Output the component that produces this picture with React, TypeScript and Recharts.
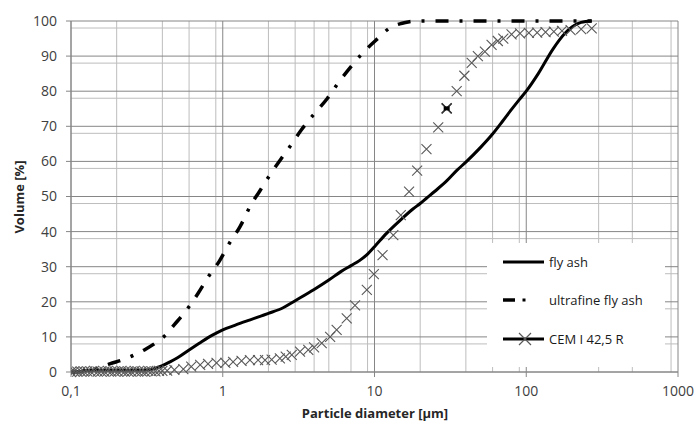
import { ComposedChart, Line, Scatter, XAxis, YAxis, CartesianGrid, Legend } from "recharts"

// particle diameter [µm] / cumulative volume [%]
const flyAshX = [0.12, 0.15, 0.2, 0.25, 0.3, 0.35, 0.4, 0.45, 0.5, 0.6, 0.7, 0.8, 0.9, 1, 1.2, 1.5, 1.8, 2, 2.5, 3, 4, 5, 6, 7, 8, 9, 10, 12, 15, 18, 20, 22, 25, 30, 35, 40, 50, 60, 70, 80, 90, 100, 120, 150, 180, 200, 230, 270]
const flyAshY = [0.4, 0.5, 0.5, 0.5, 0.5, 0.9, 1.8, 2.9, 4.0, 6.3, 8.2, 9.8, 11, 12, 13.3, 14.8, 16, 16.7, 18.3, 20.3, 23.5, 26.2, 28.6, 30.3, 31.8, 33.6, 35.7, 39.5, 43.5, 46.5, 48, 49.5, 51.5, 54.5, 57.5, 59.8, 64, 67.8, 71.5, 74.8, 77.6, 80, 85, 92, 96.5, 98.3, 99.6, 100]

const ultrafineX = [0.1, 0.13, 0.15, 0.18, 0.22, 0.26, 0.31, 0.37, 0.42, 0.48, 0.55, 0.62, 0.69, 0.8, 0.95, 1.1, 1.3, 1.55, 1.75, 2, 2.4, 2.8, 3.3, 4, 4.9, 5.8, 7, 8.4, 10.5, 12.6, 15, 17, 20, 30, 50, 100, 200, 270]
const ultrafineY = [0, 0.3, 1, 2.3, 3.5, 4.8, 6.5, 8.6, 10.5, 13.5, 16.5, 19.5, 22.5, 27, 31.6, 36.5, 41.4, 48, 51.5, 55.5, 60.5, 64.5, 69, 73.5, 78, 82.5, 87, 91, 95, 98, 99.3, 99.8, 100, 100, 100, 100, 100, 100]

const cemX = [0.1, 0.105, 0.11, 0.116, 0.122, 0.128, 0.135, 0.142, 0.15, 0.158, 0.166, 0.175, 0.184, 0.194, 0.204, 0.215, 0.226, 0.238, 0.25, 0.263, 0.277, 0.292, 0.307, 0.323, 0.34, 0.36, 0.38, 0.4, 0.43, 0.48, 0.55, 0.62, 0.71, 0.8, 0.91, 1.04, 1.17, 1.33, 1.51, 1.71, 1.9, 2.1, 2.38, 2.6, 2.85, 3.23, 3.66, 4.0, 4.49, 5.1, 5.63, 6.56, 7.44, 8.9, 9.9, 11.3, 13.3, 14.9, 16.9, 19.1, 22, 26.3, 29.9, 34.8, 39.1, 43.7, 48, 53.4, 59.1, 65, 70.6, 80, 91, 104, 118, 134, 152, 172, 196, 230, 270]
const cemY = [0, 0.2, 0.1, 0.2, 0.1, 0.2, 0.1, 0.3, 0.1, 0.2, 0.1, 0.3, 0.1, 0.2, 0.1, 0.3, 0.1, 0.2, 0.1, 0.3, 0.1, 0.2, 0.1, 0.3, 0.2, 0.2, 0.3, 0.3, 0.4, 0.6, 0.8, 1.5, 2, 2.3, 2.6, 2.6, 2.9, 3.2, 3.4, 3.4, 3.4, 3.5, 3.9, 4.4, 4.9, 5.8, 6.3, 7, 8.2, 10, 12, 15.3, 19, 23.4, 27.9, 33.3, 39, 44.7, 51.4, 57.4, 63.5, 69.7, 75.1, 80, 84.4, 88.1, 90, 91.3, 93.2, 94.3, 95, 96.2, 96.5, 96.6, 96.7, 96.8, 97, 97.2, 97.4, 97.7, 97.9]
const cemHighlight = [{ x: 29.9, y: 75.1 }]

const xTicks = [0.1, 1, 10, 100, 1000]
const yTicks = [0, 10, 20, 30, 40, 50, 60, 70, 80, 90, 100]
const minorX = [0.1, 1, 10, 100].flatMap((d) => [2, 3, 4, 5, 6, 7, 8, 9].map((m) => +(d * m).toPrecision(3)))
const minorY = yTicks.slice(0, -1).flatMap((t) => [2, 4, 6, 8].map((m) => t + m))

const flyAsh = flyAshX.map((x, i) => ({ x, y: flyAshY[i] }))
const ultrafine = ultrafineX.map((x, i) => ({ x, y: ultrafineY[i] }))
const cem = cemX.map((x, i) => ({ x, y: cemY[i] }))

const font = "'Open Sans', sans-serif"
const textColor = "#404040"

const Cross = (props: any) => {
  const { cx, cy } = props
  const s = 5
  return (
    <path d={`M${cx - s},${cy - s}L${cx + s},${cy + s}M${cx - s},${cy + s}L${cx + s},${cy - s}`} stroke="#595959" strokeWidth={1.1} fill="none" />
  )
}

const Star = (props: any) => {
  const { cx, cy } = props
  return (
    <g>
      <path d={`M${cx - 5},${cy - 5}L${cx + 5},${cy + 5}M${cx - 5},${cy + 5}L${cx + 5},${cy - 5}`} stroke="#333" strokeWidth={1.5} />
      <rect x={cx - 3} y={cy - 2} width={6} height={4} fill="#000" />
    </g>
  )
}

function LegendBox() {
  const row = (sample: any, label: string, top: number) => (
    <div style={{ position: "absolute", left: 0, top, height: 20, display: "flex", alignItems: "center" }}>
      <svg width={62} height={20} style={{ display: "block" }}>{sample}</svg>
      <span style={{ fontFamily: font, fontSize: 13, color: "#1a1a1a", whiteSpace: "nowrap" }}>{label}</span>
    </div>
  )
  return (
    <div style={{ width: 178, height: 124, background: "#fff", position: "relative" }}>
      {row(<line x1={16} x2={57} y1={10} y2={10} stroke="#000" strokeWidth={3} />, "fly ash", 9)}
      {row(
        <g>
          <line x1={16} x2={28} y1={10} y2={10} stroke="#000" strokeWidth={3.5} />
          <rect x={35.5} y={8.5} width={3} height={3} fill="#000" />
        </g>,
        "ultrafine fly ash",
        47
      )}
      {row(
        <g>
          <line x1={16} x2={57} y1={10} y2={10} stroke="#000" strokeWidth={3} />
          <path d="M32,4L44,16M32,16L44,4" stroke="#595959" strokeWidth={1.2} />
        </g>,
        "CEM I 42,5 R",
        86
      )}
    </div>
  )
}

export default function App() {
  return (
    <div style={{ position: "absolute", left: 0, top: 0, background: "#fff" }}>
      <ComposedChart width={694} height={423} margin={{ top: 21, right: 16, left: 0, bottom: 0 }}>
        <CartesianGrid horizontalValues={minorY} verticalValues={minorX} stroke="#bdbdbd" strokeDasharray="" />
        <CartesianGrid horizontalValues={yTicks} verticalValues={xTicks} stroke="#868686" strokeDasharray="" />
        <XAxis
          type="number"
          dataKey="x"
          scale="log"
          domain={[0.1, 1000]}
          ticks={xTicks}
          allowDataOverflow
          height={51}
          tickSize={5}
          tickMargin={9}
          stroke="#868686"
          tickFormatter={(v: number) => String(v).replace(".", ",")}
          tick={{ fill: textColor, fontSize: 14, fontFamily: font }}
          label={{
            content: () => (
              <text x={375} y={413} textAnchor="middle" dominantBaseline="central" fontFamily={font} fontSize={13} fontWeight="bold" fill="#262626">
                Particle diameter [µm]
              </text>
            ),
          }}
        />
        <YAxis
          type="number"
          dataKey="y"
          domain={[0, 100]}
          ticks={yTicks}
          width={71}
          tickSize={5}
          tickMargin={9}
          stroke="#868686"
          tick={{ fill: textColor, fontSize: 14, fontFamily: font }}
          label={{
            content: () => (
              <text x={19} y={197} transform="rotate(-90 19 197)" textAnchor="middle" dominantBaseline="central" fontFamily={font} fontSize={13} fontWeight="bold" fill="#262626">
                Volume [%]
              </text>
            ),
          }}
        />
        <Scatter data={cem} dataKey="y" shape={Cross} isAnimationActive={false} />
        <Scatter data={cemHighlight} dataKey="y" shape={Star} isAnimationActive={false} />
        <Line data={flyAsh} dataKey="y" type="monotone" stroke="#000" strokeWidth={3} dot={false} isAnimationActive={false} />
        <Line data={ultrafine} dataKey="y" type="monotone" stroke="#000" strokeWidth={3.5} strokeDasharray="13 11 3 11" dot={false} isAnimationActive={false} />
        <Legend
          verticalAlign="middle"
          align="center"
          layout="horizontal"
          content={() => <LegendBox />}
          wrapperStyle={{ position: "absolute", left: 487, top: 243, width: 178, height: 124 }}
        />
      </ComposedChart>
    </div>
  )
}
